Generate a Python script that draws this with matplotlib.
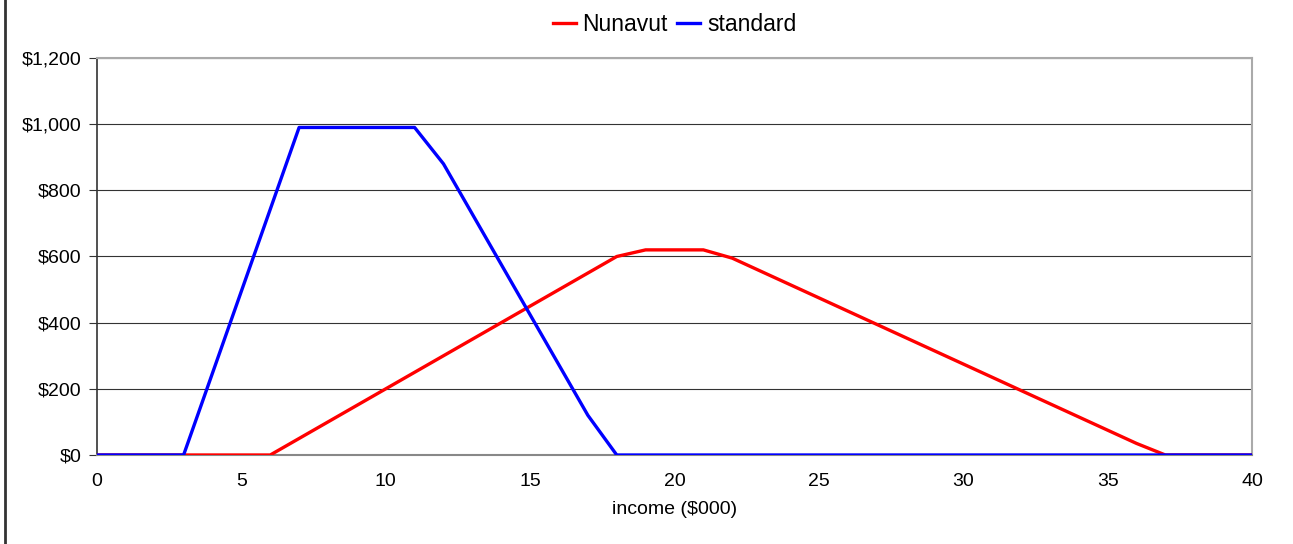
import matplotlib.pyplot as plt
from matplotlib.lines import Line2D
from matplotlib.ticker import FuncFormatter

plt.rcParams['font.family'] = ['Liberation Sans', 'DejaVu Sans']

# income in $000
income = list(range(0, 41))

standard = [0, 0, 0, 0, 247.5, 495, 742.5, 990, 990, 990, 990, 990, 880,
            728, 576, 424, 272, 120, 0] + [0] * 22

nunavut = [0] * 7 + [50, 100, 150, 200, 250, 300, 350, 400, 450, 500, 550, 600,
                     620, 620, 620, 595, 555, 515, 475, 435, 395, 355, 315,
                     275, 235, 195, 155, 115, 75, 35, 0, 0, 0, 0]

fig = plt.figure(figsize=(12.93, 5.44), dpi=100)
ax = fig.add_axes([0.075, 0.1636, 0.8933, 0.7298])

ax.plot(income, nunavut, color='#ff0000', lw=2.4, label='Nunavut', zorder=3)
ax.plot(income, standard, color='#0000ff', lw=2.4, label='standard', zorder=3)

ax.set_xlim(0, 40)
ax.set_ylim(0, 1200)
ax.set_xticks(range(0, 41, 5))
ax.set_yticks(range(0, 1201, 200))
ax.yaxis.set_major_formatter(FuncFormatter(lambda v, p: '${:,.0f}'.format(v)))
ax.tick_params(axis='y', length=6, width=0.8, color='#333333', labelsize=14, pad=5)
ax.tick_params(axis='x', length=0, labelsize=14, pad=13)
ax.grid(axis='y', color='#333333', lw=0.8)
ax.set_axisbelow(True)

for side in ['top', 'right']:
    ax.spines[side].set_color('#aaaaaa')
    ax.spines[side].set_linewidth(1.5)
ax.spines['left'].set_color('#333333')
ax.spines['left'].set_linewidth(1.2)
ax.spines['bottom'].set_color('#888888')
ax.spines['bottom'].set_linewidth(1.5)

ax.set_xlabel('income ($000)', fontsize=14, labelpad=8)

ax.legend(loc='center', bbox_to_anchor=(0.5, 1.085), ncol=2, frameon=False,
          fontsize=16.5, handlelength=1.0, handletextpad=0.3, columnspacing=0.4,
          borderaxespad=0, borderpad=0)

# left border line of the chart area
fig.add_artist(Line2D([0.0035, 0.0035], [0, 1], transform=fig.transFigure,
                      color='#333333', lw=2))

plt.savefig('out.png', dpi=100)
